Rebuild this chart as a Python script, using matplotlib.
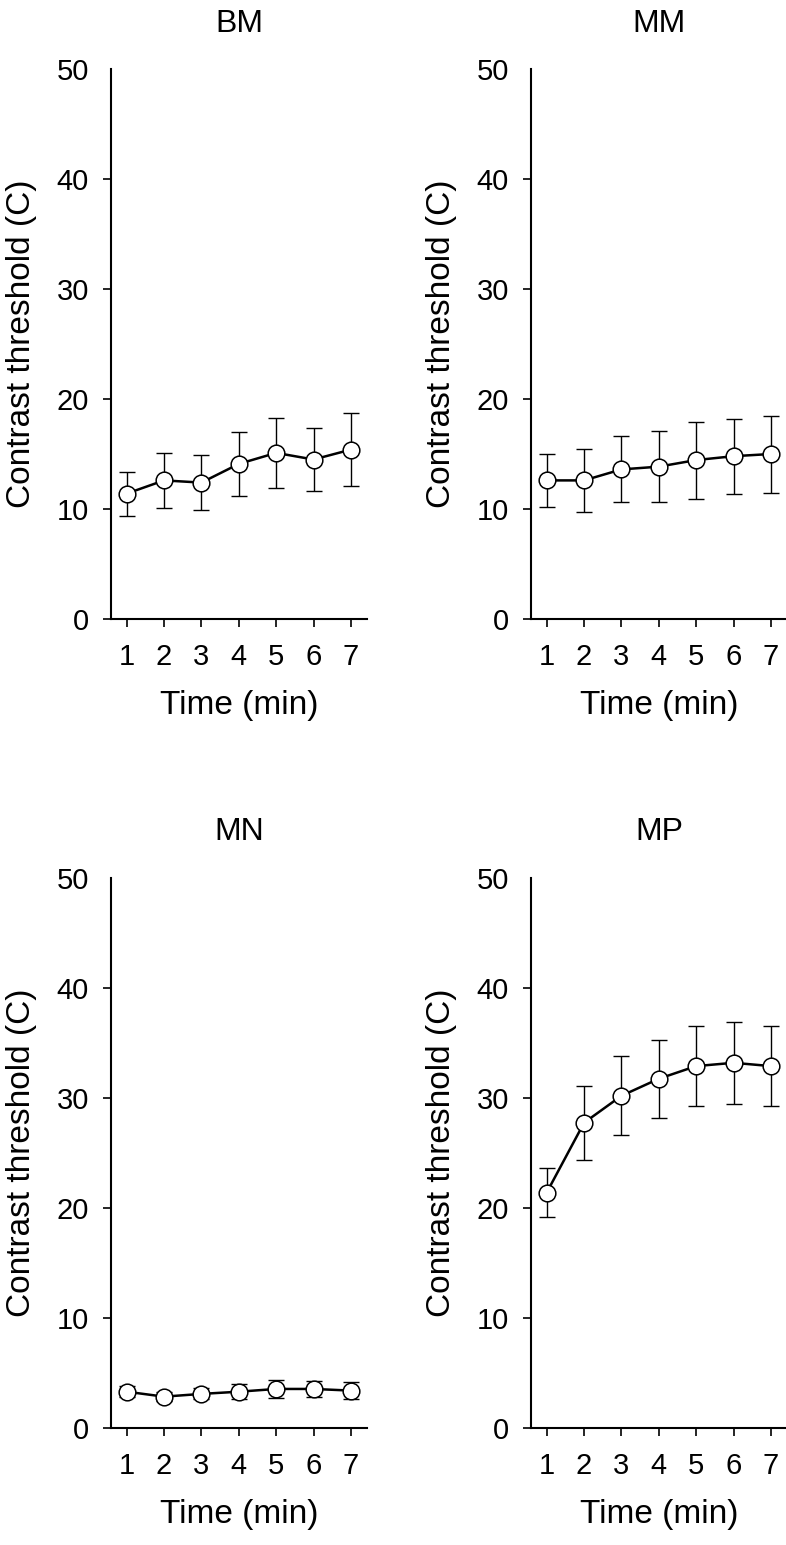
import matplotlib
matplotlib.use("Agg")
import matplotlib.pyplot as plt
import numpy as np

plt.rcParams['font.family'] = ['Liberation Sans', 'DejaVu Sans']

# data
time_min = [1, 2, 3, 4, 5, 6, 7]
panel_names = ["BM", "MM", "MN", "MP"]

bm_mean = [11.4, 12.6, 12.4, 14.1, 15.1, 14.5, 15.4]
bm_err = [2.0, 2.5, 2.5, 2.9, 3.2, 2.9, 3.3]

mm_mean = [12.6, 12.6, 13.6, 13.85, 14.45, 14.8, 15.0]
mm_err = [2.4, 2.9, 3.0, 3.2, 3.5, 3.4, 3.5]

mn_mean = [3.3, 2.85, 3.1, 3.3, 3.55, 3.55, 3.4]
mn_err = [0.5, 0.4, 0.5, 0.7, 0.85, 0.7, 0.75]

mp_mean = [21.4, 27.75, 30.2, 31.75, 32.9, 33.2, 32.9]
mp_err = [2.25, 3.35, 3.6, 3.55, 3.65, 3.7, 3.65]

y_ticks = [0, 10, 20, 30, 40, 50]

means = [bm_mean, mm_mean, mn_mean, mp_mean]
errs = [bm_err, mm_err, mn_err, mp_err]

W, H = 786, 1545
fig = plt.figure(figsize=(W / 100, H / 100), dpi=100)

# axes boxes in pixels: left, top, right, bottom
boxes = [
    (111, 69, 367, 619),
    (531, 69, 787, 619),
    (111, 878, 367, 1428),
    (531, 878, 787, 1428),
]

for name, m, e, (l, t, r, b) in zip(panel_names, means, errs, boxes):
    ax = fig.add_axes([l / W, 1 - b / H, (r - l) / W, (b - t) / H])
    ax.errorbar(time_min, m, yerr=e, fmt='none', ecolor='black',
                elinewidth=1.0, capsize=6, capthick=1.0, zorder=2)
    ax.plot(time_min, m, color='black', lw=1.8, marker='o', markersize=12,
            markerfacecolor='white', markeredgecolor='black',
            markeredgewidth=1.1, zorder=3)

    ax.set_xlim(0.58, 7.43)
    ax.set_ylim(0, 50)
    ax.set_xticks(time_min)
    ax.set_yticks(y_ticks)
    ax.yaxis.get_major_ticks()[-1].tick1line.set_visible(False)

    for side in ['top', 'right']:
        ax.spines[side].set_visible(False)
    for side in ['left', 'bottom']:
        ax.spines[side].set_linewidth(1.5)

    ax.tick_params(axis='both', direction='out', length=6, width=1.2,
                   labelsize=21, color='black')
    ax.tick_params(axis='y', pad=10)
    ax.tick_params(axis='x', pad=11)

    ax.set_xlabel("Time (min)", fontsize=24, labelpad=14)
    ax.set_ylabel("Contrast threshold (C)", fontsize=24, labelpad=14)
    ax.set_title(name, fontsize=23, pad=27)

fig.savefig("out.png", dpi=100)
